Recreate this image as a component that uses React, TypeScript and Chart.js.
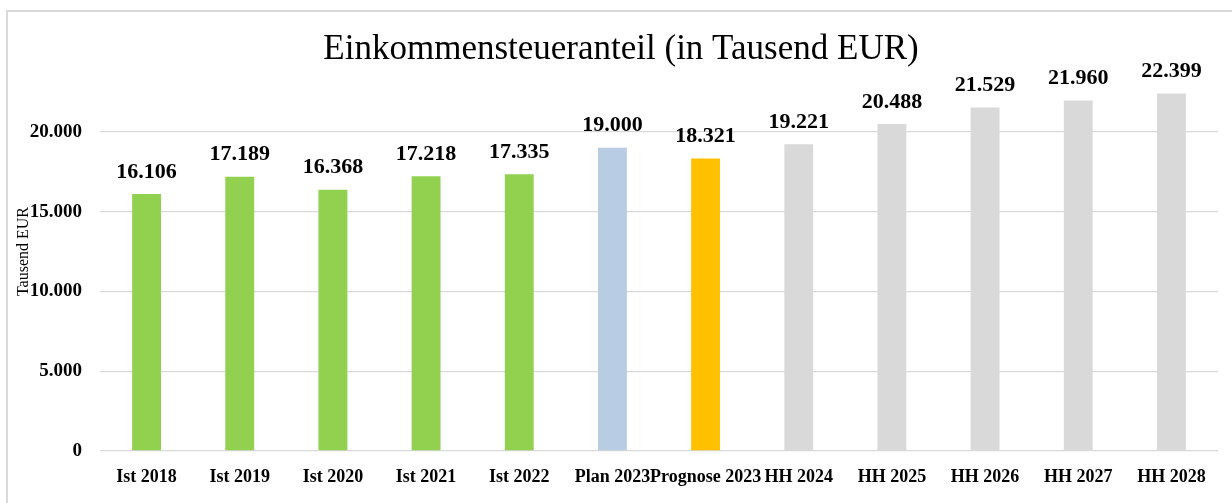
import React, { useEffect, useRef } from 'react';
import { Chart, registerables } from 'chart.js';

Chart.register(...registerables);

const categories = [
  'Ist 2018', 'Ist 2019', 'Ist 2020', 'Ist 2021', 'Ist 2022',
  'Plan 2023', 'Prognose 2023', 'HH 2024', 'HH 2025', 'HH 2026', 'HH 2027', 'HH 2028',
];
const values = [16106, 17189, 16368, 17218, 17335, 19000, 18321, 19221, 20488, 21529, 21960, 22399];
const barColors = [
  '#92D050', '#92D050', '#92D050', '#92D050', '#92D050',
  '#B8CCE4', '#FFC000',
  '#D9D9D9', '#D9D9D9', '#D9D9D9', '#D9D9D9', '#D9D9D9',
];
const yTicks = [0, 5000, 10000, 15000, 20000];
const yMax = 25000;
const chartTitle = 'Einkommensteueranteil (in Tausend EUR)';
const yAxisTitle = 'Tausend EUR';

const SERIF = '"Liberation Serif", "Times New Roman", serif';

const fmt = (v: number) => Math.round(v).toString().replace(/\B(?=(\d{3})+(?!\d))/g, '.');

const overlayPlugin = {
  id: 'overlay',
  afterDatasetsDraw(chart: any) {
    const ctx = chart.ctx;
    const meta = chart.getDatasetMeta(0);
    ctx.save();
    ctx.fillStyle = '#000';
    ctx.textAlign = 'center';
    ctx.textBaseline = 'middle';
    ctx.font = `bold 22px ${SERIF}`;
    meta.data.forEach((el: any, i: number) => {
      ctx.fillText(fmt(values[i]), el.x, el.y - 22);
    });
    ctx.font = `35px ${SERIF}`;
    ctx.fillText(chartTitle, chart.width / 2 + 5, 50);
    ctx.restore();
  },
};

export default function App() {
  const canvasRef = useRef<HTMLCanvasElement | null>(null);

  useEffect(() => {
    if (!canvasRef.current) return;
    const chart = new Chart(canvasRef.current, {
      type: 'bar',
      data: {
        labels: categories,
        datasets: [
          {
            data: values,
            backgroundColor: barColors,
            borderWidth: 0,
            barPercentage: 0.31,
            categoryPercentage: 1,
          },
        ],
      },
      options: {
        animation: false,
        responsive: true,
        maintainAspectRatio: false,
        layout: { padding: { top: 52, left: 0, right: 14, bottom: 0 } },
        plugins: {
          legend: { display: false },
          title: { display: false },
          tooltip: { enabled: false },
        },
        scales: {
          x: {
            grid: { display: false, drawTicks: false },
            border: { display: false },
            afterFit: (scale: any) => {
              scale.height = 52;
            },
            ticks: {
              autoSkip: false,
              maxRotation: 0,
              minRotation: 0,
              padding: 16,
              color: '#000',
              font: { family: SERIF, size: 18, weight: 'bold' },
            },
          },
          y: {
            min: 0,
            max: yMax,
            afterBuildTicks: (scale: any) => {
              scale.ticks = yTicks.map((v) => ({ value: v }));
            },
            afterFit: (scale: any) => {
              scale.width = 100;
            },
            grid: { color: '#D9D9D9', lineWidth: 1.3, drawTicks: false },
            border: { display: false },
            ticks: {
              padding: 18,
              color: '#000',
              font: { family: SERIF, size: 19, weight: 'bold' },
              callback: (v: any) => fmt(Number(v)),
            },
            title: {
              display: true,
              text: yAxisTitle,
              color: '#000',
              font: { family: SERIF, size: 16 },
              padding: { top: 14, bottom: 0 },
            },
          },
        },
      },
      plugins: [overlayPlugin],
    });
    return () => chart.destroy();
  }, []);

  return (
    <div style={{ position: 'fixed', left: 0, top: 0, width: 1232, height: 503, background: '#fff' }}>
      <div
        style={{
          position: 'absolute',
          left: 6,
          top: 10,
          right: -2,
          bottom: -2,
          borderLeft: '2px solid #D9D9D9',
          borderTop: '2px solid #D9D9D9',
        }}
      />
      <canvas ref={canvasRef} style={{ position: 'absolute', left: 0, top: 0 }} />
    </div>
  );
}
